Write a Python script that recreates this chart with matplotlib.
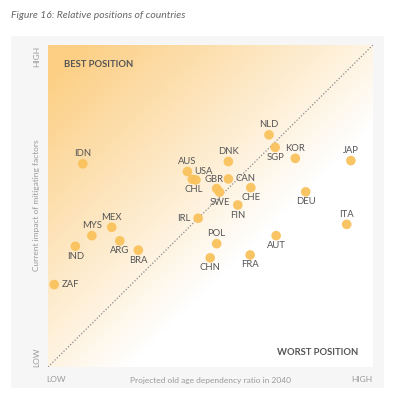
import numpy as np
import matplotlib
matplotlib.use("Agg")
import matplotlib.pyplot as plt
from matplotlib.colors import LinearSegmentedColormap
from matplotlib.patches import Rectangle

plt.rcParams['font.family'] = ['Lato', 'DejaVu Sans']

# country codes and scores (0 = low, 100 = high)
countries = ['NLD', 'SGP', 'KOR', 'JAP', 'DNK', 'AUS', 'USA', 'CHL', 'GBR', 'CAN',
             'SWE', 'CHE', 'FIN', 'DEU', 'IRL', 'ITA', 'POL', 'AUT', 'CHN', 'FRA',
             'IDN', 'MEX', 'MYS', 'ARG', 'IND', 'BRA', 'ZAF']
old_age_ratio = [68.0, 69.9, 76.1, 93.2, 55.5, 42.9, 44.4, 45.5, 51.9, 55.5,
                 52.8, 62.4, 58.4, 79.3, 46.2, 91.9, 51.9, 70.2, 49.9, 62.2,
                 10.7, 19.6, 13.5, 22.1, 8.4, 27.8, 1.9]
mitigating = [72.1, 68.2, 64.8, 64.1, 63.8, 60.7, 58.3, 58.1, 55.4, 58.4,
              54.3, 55.7, 50.3, 54.4, 46.2, 44.3, 38.3, 40.8, 33.9, 34.8,
              63.1, 43.4, 40.8, 39.2, 37.5, 36.3, 25.6]

# label placement: (dx, dy in pixels, horizontal alignment)
above = (0, 10, 'center')
below = (0, -10, 'center')
label_pos = {c: below for c in countries}
for c in ['NLD', 'KOR', 'JAP', 'DNK', 'AUS', 'ITA', 'POL', 'IDN', 'MEX', 'MYS']:
    label_pos[c] = above
label_pos['USA'] = (2, 8, 'left')
label_pos['CHL'] = (-2, -10, 'center')
label_pos['GBR'] = (-3, 9, 'center')
label_pos['CAN'] = (7, 0, 'left')
label_pos['IRL'] = (-8, 0, 'right')
label_pos['ZAF'] = (8, 0, 'left')

dot_color = '#f9c25c'
text_dark = '#555555'
text_light = '#9a9a9a'

fig = plt.figure(figsize=(3.94, 4.0), dpi=100)
fig.patch.set_facecolor('white')
fig.add_artist(Rectangle((11 / 394, 12 / 400), 373 / 394, 352 / 400,
                         transform=fig.transFigure, facecolor='#f6f6f6',
                         edgecolor='none', zorder=0))

ax = fig.add_axes([48 / 394, 33 / 400, 325 / 394, 322 / 400])
ax.set_xlim(0, 100)
ax.set_ylim(0, 100)

# background gradient, orange top-left fading to white bottom-right
gx, gy = np.meshgrid(np.linspace(0, 1, 300), np.linspace(0, 1, 300))
t = np.clip((gy - gx + 0.25) / 1.15, 0, 1) ** 0.95
cmap = LinearSegmentedColormap.from_list('bg', ['#ffffff', '#fccf85'])
ax.imshow(t, cmap=cmap, origin='lower', extent=(0, 100, 0, 100),
          aspect='auto', zorder=0, vmin=0, vmax=1)

ax.plot([0, 100], [0, 100], linestyle=(0, (1, 1.5)), color='#8a8a8a',
        linewidth=0.9, zorder=1)

ax.scatter(old_age_ratio, mitigating, s=48, color=dot_color, alpha=0.95,
           edgecolors='none', zorder=3)
for c, x, y in zip(countries, old_age_ratio, mitigating):
    dx, dy, ha = label_pos[c]
    ax.annotate(c, (x, y), xytext=(dx, dy), textcoords='offset pixels',
                ha=ha, va='center', fontsize=6.8, color=text_dark, zorder=4)

ax.text(5, 94, 'BEST POSITION', fontsize=6.8, fontweight='bold',
        color=text_dark, va='center')
ax.text(95.5, 4.4, 'WORST POSITION', fontsize=6.8, fontweight='bold',
        color=text_dark, va='center', ha='right')

for s in ax.spines.values():
    s.set_visible(False)
ax.set_xticks([])
ax.set_yticks([])

fig.text(11 / 394, 1 - 16 / 400, 'Figure 16: Relative positions of countries',
         fontsize=7.5, style='italic', color='#666666', va='center')

# axis annotations
fig.text(46 / 394, 1 - 380 / 400, 'LOW', fontsize=6, color=text_light, va='center')
fig.text(210 / 394, 1 - 380 / 400, 'Projected old age dependency ratio in 2040',
         fontsize=6, color=text_light, va='center', ha='center')
fig.text(372 / 394, 1 - 380 / 400, 'HIGH', fontsize=6, color=text_light,
         va='center', ha='right')
fig.text(37 / 394, 1 - 46 / 400, 'HIGH', fontsize=6, color=text_light,
         rotation=90, va='top', ha='center')
fig.text(37 / 394, 1 - 367 / 400, 'LOW', fontsize=6, color=text_light,
         rotation=90, va='bottom', ha='center')
fig.text(37 / 394, 1 - 205 / 400, 'Current impact of mitigating factors',
         fontsize=6, color=text_light, rotation=90, va='center', ha='center')

fig.savefig('out.png', dpi=100)
